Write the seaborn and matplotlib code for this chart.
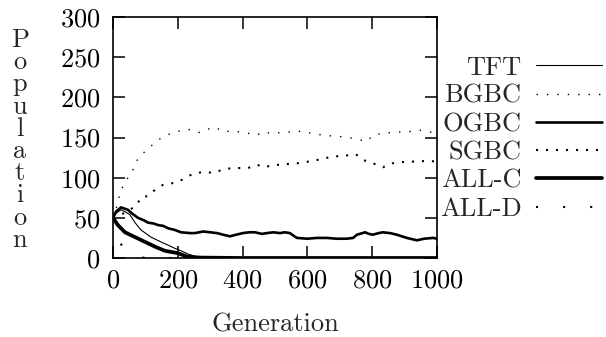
import matplotlib
matplotlib.use("Agg")
import matplotlib.pyplot as plt
import seaborn as sns
import pandas as pd

# ---------------- data ----------------
tft_x = [0, 10, 25, 40, 52, 68, 86, 100, 117, 148, 170, 191, 210, 231, 262, 300, 400, 1000]
tft_y = [50, 56, 60, 57, 54, 44, 35, 31, 26, 20, 16, 12, 9, 5, 1, 0.5, 0, 0]

bgbc_x = [0, 10, 22, 37, 58, 71, 89, 114, 130, 154, 185, 213, 243, 268, 290, 315, 340, 365,
          392, 420, 444, 463, 490, 515, 545, 571, 599, 620, 645, 675, 707, 741, 762, 784,
          802, 830, 855, 880, 907, 930, 948, 970, 1000]
bgbc_y = [50, 62, 81, 95, 106, 120, 129, 138, 144, 151, 156, 159, 160, 156, 160, 163, 157, 158,
          157, 155, 153, 157, 155, 156, 157, 158, 156, 155, 153, 152, 151, 149, 147, 145,
          153, 155, 156, 157, 157, 158, 159, 157, 156]

ogbc_x = [0, 10, 25, 46, 60, 77, 95, 108, 125, 139, 155, 170, 190, 210, 238, 253, 278, 300,
          321, 340, 361, 380, 401, 420, 438, 460, 475, 495, 515, 530, 546, 560, 568, 599,
          630, 660, 690, 722, 741, 753, 778, 790, 802, 820, 833, 855, 876, 907, 938, 960,
          988, 1000]
ogbc_y = [50, 58, 63, 60, 55, 50, 47, 44, 43, 41, 40, 37, 35, 32, 31, 31, 33, 32,
          31, 29, 27, 29, 31, 32, 32, 30, 31, 32, 31, 32, 31, 27, 25, 24,
          25, 25, 24, 24, 25, 29, 32, 30, 29, 31, 32, 31, 29, 25, 22, 24,
          25, 24]

sgbc_x = [0, 30, 68, 89, 108, 130, 154, 182, 207, 231, 259, 284, 309, 340, 367, 392, 417,
          444, 469, 494, 521, 556, 577, 602, 630, 648, 679, 701, 731, 750, 772, 802, 833,
          864, 907, 938, 970, 1000]
sgbc_y = [50, 55, 64, 76, 77, 85, 91, 93, 96, 102, 106, 107, 106, 110, 112, 112, 112,
          116, 113, 116, 116, 118, 118, 120, 122, 124, 126, 127, 128, 129, 122, 118, 113,
          118, 120, 120, 121, 120]

allc_x = [0, 15, 37, 68, 99, 130, 160, 200, 231, 270, 400, 1000]
allc_y = [50, 41, 32, 26, 20, 14, 9, 6, 1.5, 0.5, 0, 0]

alld_x = [0, 10, 22, 40, 60, 100, 1000]
alld_y = [50, 35, 19, 8, 3, 0, 0]

labels = ["TFT", "BGBC", "OGBC", "SGBC", "ALL-C", "ALL-D"]
x_ticks = [0, 200, 400, 600, 800, 1000]
y_ticks = [0, 50, 100, 150, 200, 250, 300]

# ---------------- style ----------------
sns.set_style("ticks")
plt.rcParams["font.family"] = ["cmr10", "DejaVu Serif"]
plt.rcParams["mathtext.fontset"] = "cm"
plt.rcParams["axes.unicode_minus"] = False
plt.rcParams["axes.formatter.use_mathtext"] = True

FS = 19

W, H = 606, 337
fig = plt.figure(figsize=(W / 100, H / 100), dpi=100)
L, R, T, B = 113, 437, 17, 258
ax = fig.add_axes([L / W, 1 - B / H, (R - L) / W, (B - T) / H])

series = [
    (tft_x, tft_y, dict(lw=0.8, linestyle="-")),
    (bgbc_x, bgbc_y, dict(lw=1.0, linestyle=(0, (1, 6.5)))),
    (ogbc_x, ogbc_y, dict(lw=1.9, linestyle="-")),
    (sgbc_x, sgbc_y, dict(lw=1.5, linestyle=(0, (1, 3.8)))),
    (allc_x, allc_y, dict(lw=2.7, linestyle="-")),
    (alld_x, alld_y, dict(lw=1.5, linestyle=(0, (1, 12)))),
]

for (xs, ys, st), lab in zip(series, labels):
    df = pd.DataFrame({"Generation": xs, "Population": ys})
    sns.lineplot(data=df, x="Generation", y="Population", ax=ax, color="black",
                 label=lab, **st)

ax.set_xlim(0, 1000)
ax.set_ylim(0, 300)
ax.set_xticks(x_ticks)
ax.set_yticks(y_ticks)
ax.set_xlabel("")
ax.set_ylabel("")
for s in ax.spines.values():
    s.set_visible(True)
    s.set_linewidth(1.2)
    s.set_color("black")
ax.tick_params(direction="in", length=8.5, width=1.1, top=True, right=True,
               labelsize=FS, colors="black")
ax.tick_params(axis="y", pad=9)
ax.tick_params(axis="x", pad=8)

leg = ax.legend(loc="upper right", bbox_to_anchor=(602 / W, 1 - 56 / H),
                bbox_transform=fig.transFigure, frameon=False, markerfirst=False,
                fontsize=FS, handlelength=2.5, handletextpad=0.55,
                labelspacing=0.17, borderpad=0, borderaxespad=0)
for t in leg.get_texts():
    t.set_ha("right")

# x label
fig.text((L + R) / 2 / W, 1 - 332 / H, "Generation", ha="center", va="baseline",
         fontsize=FS)

# y label: stacked letters
word = "Population"
for i, ch in enumerate(word):
    fig.text(20 / W, 1 - (47 + 22.2 * i) / H, ch, ha="center", va="baseline",
             fontsize=FS)

fig.savefig("out.png", dpi=100)
